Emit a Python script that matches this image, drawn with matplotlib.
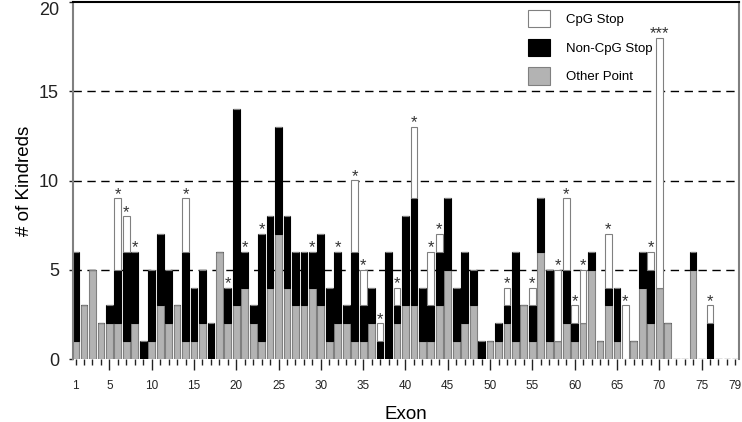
import matplotlib
matplotlib.use("Agg")
import matplotlib.pyplot as plt
from matplotlib.patches import Patch
import numpy as np

plt.rcParams['font.family'] = ['Liberation Sans', 'DejaVu Sans']

exons = list(range(1, 80))
other_point = [1, 3, 5, 2, 2, 2, 1, 2, 0, 1, 3, 2, 3, 1, 1, 2, 0, 6, 2, 3,
               4, 2, 1, 4, 7, 4, 3, 3, 4, 3, 1, 2, 2, 1, 1, 2, 0, 0, 2, 3,
               3, 1, 1, 3, 5, 1, 2, 3, 0, 1, 1, 2, 1, 3, 1, 6, 1, 1, 2, 1,
               2, 5, 1, 3, 1, 0, 1, 4, 2, 4, 2, 0, 0, 5, 0, 0, 0, 0, 0]
noncpg_stop = [5, 0, 0, 0, 1, 3, 5, 4, 1, 4, 4, 3, 0, 5, 3, 3, 2, 0, 2, 11,
               2, 1, 6, 4, 6, 4, 3, 3, 2, 4, 3, 4, 1, 5, 2, 2, 1, 6, 1, 5,
               6, 3, 2, 3, 4, 3, 4, 2, 1, 0, 1, 1, 5, 0, 2, 3, 4, 0, 3, 1,
               0, 1, 0, 1, 3, 0, 0, 2, 3, 0, 0, 0, 0, 1, 0, 2, 0, 0, 0]
cpg_stop = [0, 0, 0, 0, 0, 4, 2, 0, 0, 0, 0, 0, 0, 3, 0, 0, 0, 0, 0, 0,
            0, 0, 0, 0, 0, 0, 0, 0, 0, 0, 0, 0, 0, 4, 2, 0, 1, 0, 1, 0,
            4, 0, 3, 1, 0, 0, 0, 0, 0, 0, 0, 1, 0, 0, 1, 0, 0, 4, 4, 1,
            3, 0, 0, 3, 0, 3, 0, 0, 1, 14, 0, 0, 0, 0, 0, 1, 0, 0, 0]
star_exons = [6, 7, 8, 14, 19, 21, 23, 29, 32, 34, 35, 37, 39, 41, 43, 44,
              52, 55, 58, 59, 60, 61, 64, 66, 69, 70, 76]
star_labels = ['*'] * 25 + ['***', '*']
xtick_major = list(range(5, 76, 5))
legend_labels = ['CpG Stop', 'Non-CpG Stop', 'Other Point']

gray = '#b3b3b3'
edge = '#808080'

fig = plt.figure(figsize=(7.42, 4.22), dpi=100)
ax = fig.add_axes([73/742, 1-359/422, 666/742, 357/422])

x = np.array(exons)
op = np.array(other_point)
nc = np.array(noncpg_stop)
cs = np.array(cpg_stop)
w = 0.8

for yv in (5, 10, 15):
    ax.axhline(yv, color='black', lw=1.0, ls=(0, (6, 4)), zorder=1)

ax.bar(x, op, width=w, color=gray, edgecolor=edge, linewidth=0.8, zorder=2)
ax.bar(x, nc, width=w, bottom=op, color='black', edgecolor='black', linewidth=0.8, zorder=2)
ax.bar(x, cs, width=w, bottom=op+nc, color='white', edgecolor=edge, linewidth=0.8, zorder=2)

tot = op + nc + cs
for e, lab in zip(star_exons, star_labels):
    ax.annotate(lab, (e, tot[e-1]), xytext=(0, -2.5), textcoords='offset points',
                ha='center', va='bottom', fontsize=12, color='#333333', zorder=3)

ax.set_xlim(0.7, 79.43)
ax.set_ylim(0, 20)

ax.set_xticks(xtick_major)
ax.set_xticklabels([str(v) for v in xtick_major], fontsize=8.5)
ax.set_xticks(exons, minor=True)
ax.set_xticklabels(['1' if v == 1 else ('79' if v == 79 else '') for v in exons],
                   minor=True, fontsize=8.5)
ax.tick_params(axis='x', which='major', length=8, width=1, pad=7, colors='#222222')
ax.tick_params(axis='x', which='minor', length=4, width=1, pad=11, colors='#222222')
ax.set_yticks([0, 5, 10, 15, 20])
ax.tick_params(axis='y', length=3, width=1, labelsize=13, pad=7, colors='#222222')
ax.get_yticklabels()[-1].set_verticalalignment('top')

ax.spines['bottom'].set_visible(False)
ax.spines['left'].set_color(edge)
ax.spines['left'].set_linewidth(1.5)
ax.spines['right'].set_color(edge)
ax.spines['right'].set_linewidth(1.5)
ax.spines['top'].set_color('black')
ax.spines['top'].set_linewidth(1.5)

ax.set_xlabel('Exon', fontsize=13.5, labelpad=10)
ax.set_ylabel('# of Kindreds', fontsize=13.5, labelpad=4)

handles = [Patch(facecolor='white', edgecolor=edge, linewidth=0.8),
           Patch(facecolor='black', edgecolor='black', linewidth=0.8),
           Patch(facecolor=gray, edgecolor=edge, linewidth=0.8)]
ax.legend(handles, legend_labels, loc='upper left',
          bbox_to_anchor=((528-73)/666, 1-8/357), frameon=False,
          fontsize=9.5, handlelength=1.7, handleheight=1.65, labelspacing=0.85,
          handletextpad=1.2, borderpad=0, borderaxespad=0)

fig.savefig('out.png', dpi=100)
